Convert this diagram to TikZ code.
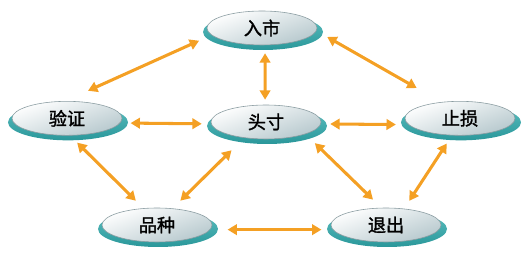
\documentclass[tikz,border=0pt]{standalone}
\usepackage{fontspec}
\usepackage{tikz}
\usetikzlibrary{arrows.meta,shapes.geometric,backgrounds}
\newfontfamily\cjk{Noto Sans CJK SC}[FakeBold=1.6]
\definecolor{TRTeal}{HTML}{5CBFC0}
\definecolor{TRTealDark}{HTML}{2A979A}
\definecolor{TRDisc}{HTML}{B6C8CD}
\definecolor{TRRim}{HTML}{8A9CA1}
\definecolor{TROrange}{HTML}{F4A024}
\tikzset{
  disc/.style={ellipse,minimum width=3.3cm,minimum height=1.02cm,inner sep=0pt,
    draw=TRRim,line width=.5pt,top color=white,bottom color=TRDisc,shading angle=20,
    font=\cjk\fontsize{15.5pt}{16pt}\selectfont},
  discbase/.style={top color=TRTeal,bottom color=TRTealDark},
  link/.style={TROrange,line width=2.6pt,>={Triangle[length=8pt,width=9pt]},<->}
}
\begin{document}
\begin{tikzpicture}[x=1cm,y=1cm]
\path[use as bounding box] (0,0) rectangle (15.75,7.92);
% discs
\node[disc] (rushi) at (7.86,7.08) {入市};
\node[disc] (yanzheng) at (2.01,4.37) {验证};
\node[disc] (toucun) at (7.98,4.26) {头寸};
\node[disc] (zhisun) at (13.80,4.37) {止损};
\node[disc] (pinzhong) at (4.71,1.17) {品种};
\node[disc] (tuichu) at (11.58,1.17) {退出};
\begin{scope}[on background layer]
\foreach \n in {rushi,yanzheng,toucun,zhisun,pinzhong,tuichu}
  \shade[discbase] ([xshift=0.03cm,yshift=-0.12cm]\n.center) ellipse (1.8 and 0.54);
\end{scope}
% links
\draw[link,shorten <=0.75cm,shorten >=0.41cm] (yanzheng.96) -- (rushi.188);
\draw[link,shorten <=0.24cm,shorten >=0.15cm] (rushi.280) -- (toucun.93);
\draw[link,shorten <=0.37cm,shorten >=0.85cm] (rushi.357) -- (zhisun.139);
\draw[link,shorten <=0.31cm,shorten >=0.28cm] (yanzheng.355) -- (toucun.182);
\draw[link,shorten <=0.28cm,shorten >=0.38cm] (toucun.358) -- (zhisun.187);
\draw[link,shorten <=0.30cm,shorten >=0.32cm] (yanzheng.280) -- (pinzhong.129);
\draw[link,shorten <=0.53cm,shorten >=0.33cm] (toucun.216) -- (pinzhong.47);
\draw[link,shorten <=0.39cm,shorten >=0.35cm] (toucun.343) -- (tuichu.105);
\draw[link,shorten <=0.29cm,shorten >=0.28cm] (zhisun.245) -- (tuichu.42);
\draw[link,shorten <=0.52cm,shorten >=0.34cm] (pinzhong.355) -- (tuichu.185);
\end{tikzpicture}
\end{document}
